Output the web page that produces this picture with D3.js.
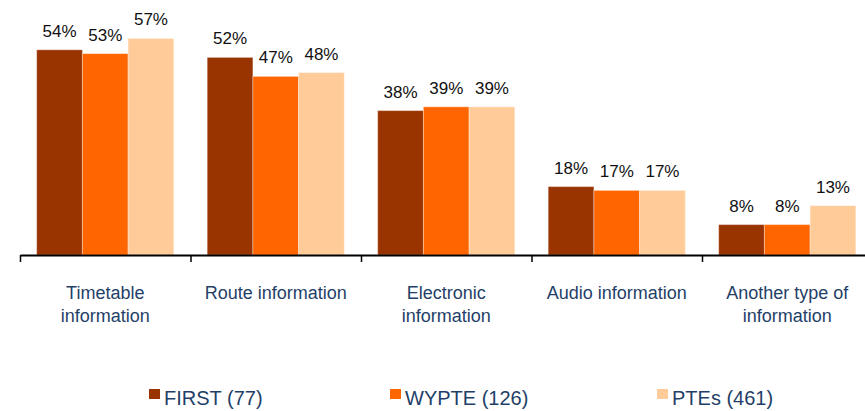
<!DOCTYPE html>
<html>
<head>
<meta charset="utf-8">
<script src="https://cdn.jsdelivr.net/npm/d3@7"></script>
<style>
  body { margin: 0; background: #fff; }
  svg text { font-family: Arial, "Liberation Sans", sans-serif; }
</style>
</head>
<body>
<svg id="chart" width="865" height="411"></svg>
<script>
// chart data
const categories = [
    ['Timetable', 'information'],
    ['Route information'],
    ['Electronic', 'information'],
    ['Audio information'],
    ['Another type of', 'information']
];
const seriesNames = ['FIRST (77)', 'WYPTE (126)', 'PTEs (461)'];
const firstValues = [54, 52, 38, 18, 8];
const wypteValues = [53, 47, 39, 17, 8];
const ptesValues = [57, 48, 39, 17, 13];
const colors = ['#993300', '#FF6600', '#FFCC99'];

const series = [firstValues, wypteValues, ptesValues];
const baseline = 255;

const svg = d3.select('#chart');

const x = d3.scaleBand()
            .domain(d3.range(categories.length))
            .range([20, 872.5])
            .paddingInner(0)
            .paddingOuter(0);

const xSub = d3.scaleBand()
               .domain(d3.range(series.length))
               .range([0, x.bandwidth()])
               .paddingInner(0)
               .paddingOuter(0.365);

const y = d3.scaleLinear()
            .domain([0, 60])
            .range([baseline, baseline - 228]);

// bars
const groups = svg.selectAll('g.group')
                  .data(categories)
                  .enter()
                  .append('g')
                  .attr('class', 'group')
                  .attr('transform', (d, i) => 'translate(' + x(i) + ',0)');

groups.selectAll('rect')
      .data((d, i) => series.map((s, k) => ({ k: k, v: s[i] })))
      .enter()
      .append('rect')
      .attr('x', d => xSub(d.k))
      .attr('y', d => y(d.v))
      .attr('width', xSub.bandwidth())
      .attr('height', d => baseline - y(d.v))
      .attr('fill', d => colors[d.k])
      .attr('stroke', '#ffffff')
      .attr('stroke-opacity', 0.35)
      .attr('stroke-width', 1);

groups.selectAll('text.value')
      .data((d, i) => series.map((s, k) => ({ k: k, v: s[i] })))
      .enter()
      .append('text')
      .attr('class', 'value')
      .attr('x', d => xSub(d.k) + xSub.bandwidth() / 2)
      .attr('y', d => y(d.v) - 13)
      .attr('text-anchor', 'middle')
      .attr('font-size', 17)
      .attr('fill', '#111')
      .text(d => d.v + '%');

// axis with ticks at category boundaries
const edge = d3.scaleLinear()
               .domain([0, categories.length])
               .range(x.range());

const xAxis = d3.axisBottom(edge)
                .tickValues(d3.range(categories.length + 1))
                .tickFormat('')
                .tickSize(7)
                .tickSizeOuter(0);

const axisG = svg.append('g')
                 .attr('transform', 'translate(0,' + baseline + ')')
                 .call(xAxis);
axisG.select('.domain').attr('stroke', '#000').attr('stroke-width', 2);
axisG.selectAll('.tick line').attr('stroke', '#000').attr('stroke-width', 1.5);

// category labels
const labels = svg.selectAll('text.cat')
                  .data(categories)
                  .enter()
                  .append('text')
                  .attr('class', 'cat')
                  .attr('text-anchor', 'middle')
                  .attr('font-size', 18)
                  .attr('fill', '#1F3F68');

labels.selectAll('tspan')
      .data((d, i) => d.map(line => ({ line: line, i: i })))
      .enter()
      .append('tspan')
      .attr('x', d => x(d.i) + x.bandwidth() / 2)
      .attr('y', (d, j) => 299 + j * 23)
      .text(d => d.line);

// legend
const legendX = [149, 390, 657];
const legend = svg.selectAll('g.legend')
                  .data(seriesNames)
                  .enter()
                  .append('g')
                  .attr('class', 'legend')
                  .attr('transform', (d, i) => 'translate(' + legendX[i] + ',389)');

legend.append('rect')
      .attr('width', 11)
      .attr('height', 10)
      .attr('fill', (d, i) => colors[i]);

legend.append('text')
      .attr('x', 15)
      .attr('y', 16)
      .attr('font-size', 20)
      .attr('fill', '#1F3F68')
      .text(d => d);
</script>
</body>
</html>
